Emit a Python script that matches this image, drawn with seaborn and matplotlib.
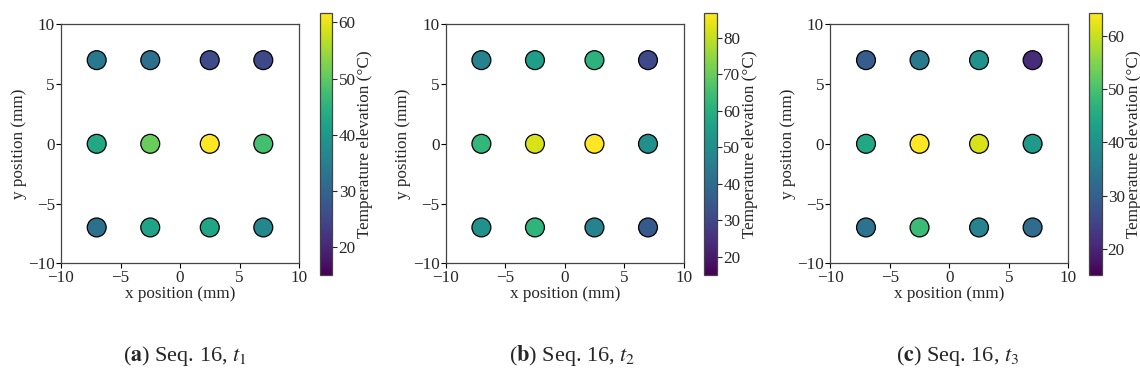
import numpy as np
import pandas as pd
import matplotlib
matplotlib.use("Agg")
import matplotlib.pyplot as plt
import seaborn as sns
from matplotlib.colors import Normalize
from matplotlib.cm import ScalarMappable
from matplotlib.ticker import MultipleLocator

# ---- data ----
x_pos = [-7, -2.5, 2.5, 7]
y_pos = [7, 0, -7]

# temperatures row by row (top row y=7, middle y=0, bottom y=-7)
temp_a = [33.8, 32.0, 25.5, 25.2,
          43.0, 51.0, 61.6, 47.7,
          32.0, 42.0, 42.5, 36.6]
temp_b = [46.5, 55.0, 61.0, 30.8,
          62.3, 82.4, 86.7, 50.8,
          51.0, 61.6, 46.5, 35.0]
temp_c = [29.4, 34.8, 39.7, 21.0,
          44.6, 64.3, 61.3, 41.7,
          33.8, 48.6, 37.2, 32.3]
vmin_all = 15.0
captions = [("a", "1"), ("b", "2"), ("c", "3")]
cbar_label = "Temperature elevation (°C)"
x_label = "x position (mm)"
y_label = "y position (mm)"

sns.set_theme(style="white")
plt.rcParams["font.family"] = ["Liberation Serif", "DejaVu Serif"]
plt.rcParams["mathtext.fontset"] = "stix"
plt.rcParams["axes.unicode_minus"] = True

fig = plt.figure(figsize=(11.4, 3.81), dpi=100)

ax_lefts = [61 / 1140, 445.7 / 1140, 830.3 / 1140]
cb_lefts = [319.5 / 1140, 704 / 1140, 1088.5 / 1140]
cap_x = [185 / 1140, 572 / 1140, 958 / 1140]

grid_x = [xv for yv in y_pos for xv in x_pos]
grid_y = [yv for yv in y_pos for xv in x_pos]

fs = 12.3

for i, temps in enumerate([temp_a, temp_b, temp_c]):
    df = pd.DataFrame({"x": grid_x, "y": grid_y, "T": temps})
    vmax = max(temps)
    ax = fig.add_axes([ax_lefts[i], (381 - 263.3) / 381, 238 / 1140, 239 / 381])
    sns.scatterplot(data=df, x="x", y="y", hue="T", palette="viridis",
                    hue_norm=(vmin_all, vmax), s=185, edgecolor="black",
                    linewidth=0.9, legend=False, ax=ax, zorder=3)
    ax.set_xlim(-10, 10)
    ax.set_ylim(-10, 10)
    ax.set_xticks([-10, -5, 0, 5, 10])
    ax.set_yticks([-10, -5, 0, 5, 10])
    ax.set_xlabel(x_label, fontsize=fs, labelpad=0)
    ax.set_ylabel(y_label, fontsize=fs, labelpad=1)
    ax.tick_params(axis="both", labelsize=fs, direction="out", length=3.5,
                   width=0.8, color="black", pad=1.0, bottom=True, left=True)
    for sp in ax.spines.values():
        sp.set_color("#444444")
        sp.set_linewidth(0.9)
    ax.set_facecolor("white")

    cax = fig.add_axes([cb_lefts[i], (381 - 275.3) / 381, 13 / 1140, 262 / 381])
    sm = ScalarMappable(norm=Normalize(vmin_all, vmax), cmap="viridis")
    cb = fig.colorbar(sm, cax=cax)
    cb.locator = MultipleLocator(10)
    cb.update_ticks()
    cb.set_label(cbar_label, fontsize=fs, labelpad=1)
    cb.ax.tick_params(labelsize=fs, length=3.5, width=0.8, pad=1.0, right=True)
    cb.outline.set_edgecolor("#444444")
    cb.outline.set_linewidth(0.9)

    letter, sub = captions[i]
    fig.text(cap_x[i], (381 - 356) / 381,
             r"($\mathbf{" + letter + r"}$) Seq. 16, $t_{" + sub + r"}$",
             ha="center", va="center", fontsize=16)

fig.savefig("out.png", dpi=100)
